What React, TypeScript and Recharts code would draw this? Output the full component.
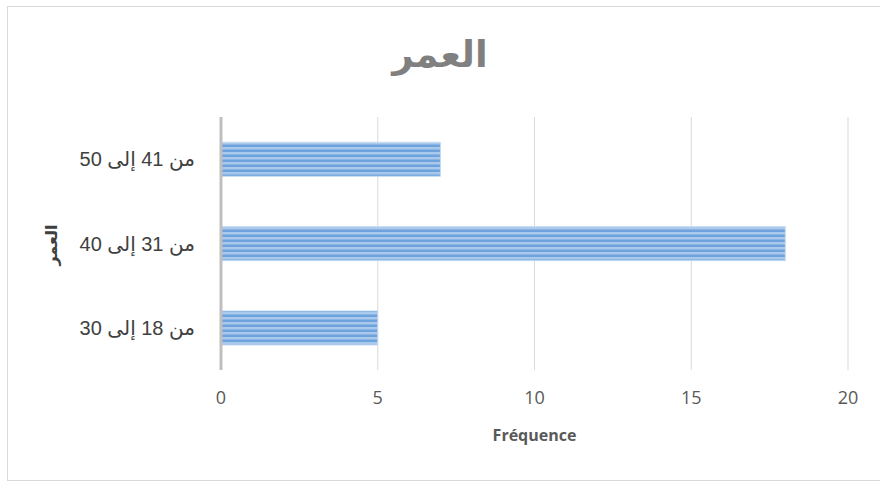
import React from 'react';
import { BarChart, Bar, XAxis, YAxis, CartesianGrid, Customized } from 'recharts';

const categories = ['من 41 إلى 50', 'من 31 إلى 40', 'من 18 إلى 30'];
const frequencies = [7, 18, 5];
const xTicks = [0, 5, 10, 15, 20];
const chartTitle = 'العمر';
const yAxisTitle = 'العمر';
const xAxisTitle = 'Fréquence';

const data = categories.map((c, i) => ({ category: c, value: frequencies[i] }));

const Titles = (props: any) => (
  <g>
    <text
      x={440}
      y={54}
      textAnchor="middle"
      dominantBaseline="central"
      fontFamily="'DejaVu Sans', sans-serif"
      fontWeight="bold"
      fontSize={37}
      fill="#808080"
    >
      {chartTitle}
    </text>
    <text
      x={51}
      y={245}
      transform="rotate(-90 51 245)"
      textAnchor="middle"
      dominantBaseline="central"
      fontFamily="'DejaVu Sans', sans-serif"
      fontWeight="bold"
      fontSize={16}
      fill="#404040"
    >
      {yAxisTitle}
    </text>
  </g>
);

export default function App() {
  return (
    <div style={{ position: 'absolute', left: 0, top: 0, width: 880, height: 484, background: '#fff' }}>
      <div
        style={{
          position: 'absolute',
          left: 7,
          top: 6,
          width: 880,
          height: 475,
          border: '1px solid #d9d9d9',
          boxSizing: 'border-box',
        }}
      />
      <div style={{ position: 'absolute', left: 0, top: 0 }}>
        <BarChart
          width={880}
          height={484}
          data={data}
          layout="vertical"
          margin={{ top: 117, right: 32, bottom: 0, left: 0 }}
          barCategoryGap="30%"
        >
          <defs>
            <pattern id="stripes" patternUnits="userSpaceOnUse" width="10" height="5" y="142">
              <rect x="0" y="0" width="10" height="5" fill="#6ea2dc" />
              <rect x="0" y="0" width="10" height="2" fill="#a8c8ec" />
              <rect x="0" y="2" width="10" height="1" fill="#8cb5e4" />
            </pattern>
          </defs>
          <CartesianGrid horizontal={false} stroke="#d9d9d9" strokeWidth={1} />
          <XAxis
            type="number"
            domain={[0, 20]}
            ticks={xTicks}
            axisLine={false}
            tickLine={false}
            tickMargin={15}
            height={114}
            tick={{ fontSize: 18, fill: '#595959', fontFamily: "'Open Sans', sans-serif" }}
            label={{
              value: xAxisTitle,
              position: 'insideTop',
              offset: 60,
              fontSize: 16,
              fontWeight: 'bold',
              fill: '#595959',
              fontFamily: "'Open Sans', sans-serif",
            }}
          />
          <YAxis
            type="category"
            dataKey="category"
            width={221}
            axisLine={{ stroke: '#bfbfbf', strokeWidth: 3 }}
            tickLine={false}
            tickMargin={20}
            tick={{ fontSize: 20, fill: '#404040', fontFamily: "'Liberation Sans', 'DejaVu Sans', sans-serif" }}
          />
          <Bar dataKey="value" fill="url(#stripes)" stroke="#c5dbf2" strokeWidth={1} isAnimationActive={false} />
          <Customized component={Titles} />
        </BarChart>
      </div>
    </div>
  );
}
